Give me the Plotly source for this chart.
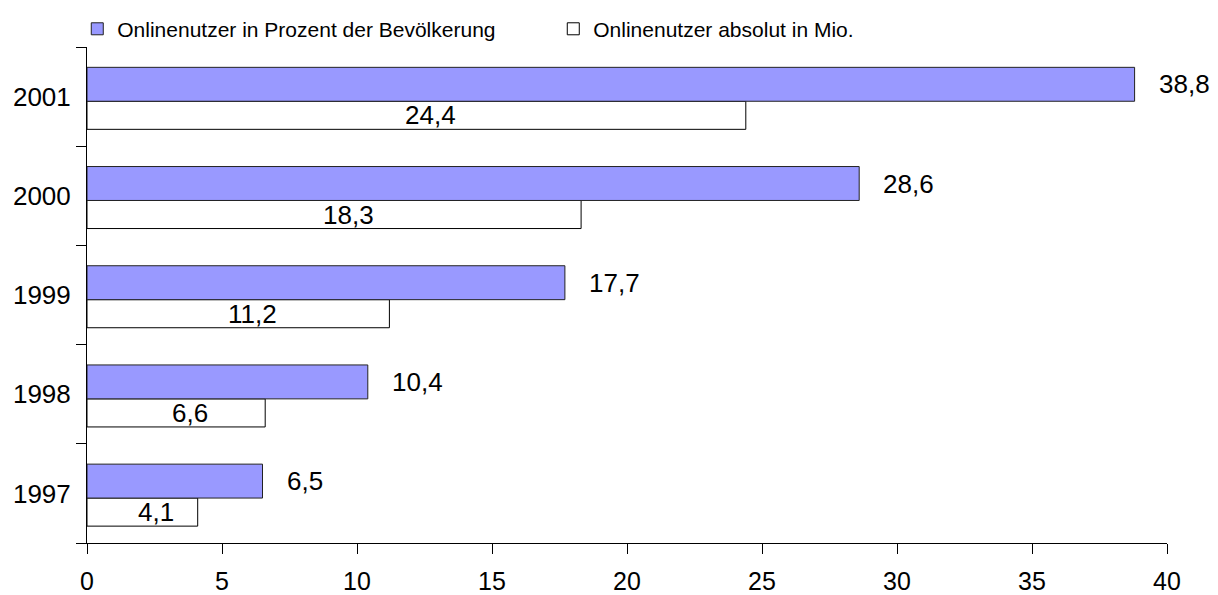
import plotly.graph_objects as go

years = ["1997", "1998", "1999", "2000", "2001"]
pct_users = [6.5, 10.4, 17.7, 28.6, 38.8]
abs_users_mio = [4.1, 6.6, 11.2, 18.3, 24.4]
x_ticks = [0, 5, 10, 15, 20, 25, 30, 35, 40]

name_pct = "Onlinenutzer in Prozent der Bevölkerung"
name_abs = "Onlinenutzer absolut in Mio."

FONT = "Liberation Sans, Arial, sans-serif"
PURPLE = "#9999FF"

def de(v):
    return f"{v:.1f}".replace(".", ",")

P_OFF, P_W = -0.047, 0.342
W_OFF, W_W = -0.33, 0.283

fig = go.Figure()
fig.add_trace(go.Bar(
    y=years, x=abs_users_mio, orientation="h", name=name_abs,
    width=W_W, offset=W_OFF,
    marker=dict(color="white", line=dict(color="black", width=1)),
    legendrank=2, hoverinfo="skip",
))
fig.add_trace(go.Bar(
    y=years, x=pct_users, orientation="h", name=name_pct,
    width=P_W, offset=P_OFF,
    marker=dict(color=PURPLE, line=dict(color="#222222", width=1)),
    legendrank=1, hoverinfo="skip",
))

annotations = []
for i, v in enumerate(pct_users):
    annotations.append(dict(
        x=v, y=i + P_OFF + P_W / 2, xref="x", yref="y",
        text=de(v), showarrow=False, xanchor="left", yanchor="middle",
        xshift=22, font=dict(family=FONT, size=26, color="black"),
    ))
for i, v in enumerate(abs_users_mio):
    annotations.append(dict(
        x=v / 2, y=i + W_OFF + W_W / 2, xref="x", yref="y",
        text=de(v), showarrow=False, xanchor="center", yanchor="middle",
        xshift=14, font=dict(family=FONT, size=26, color="black"),
    ))

fig.update_layout(
    width=1210, height=587,
    margin=dict(l=79, r=51, t=39, b=52, autoexpand=False),
    paper_bgcolor="white", plot_bgcolor="white",
    barmode="overlay",
    font=dict(family=FONT, size=26, color="black"),
    showlegend=True,
    legend=dict(
        orientation="h", x=-0.009, y=1.036, xanchor="left", yanchor="middle",
        font=dict(family=FONT, size=21, color="black"),
        entrywidth=431, entrywidthmode="pixels",
        bgcolor="rgba(0,0,0,0)",
    ),
    annotations=annotations,
    xaxis=dict(
        range=[0, 40], tickvals=x_ticks, ticktext=[str(t) for t in x_ticks],
        showline=True, linecolor="black", linewidth=1,
        ticks="outside", ticklen=10, tickcolor="black", tickwidth=1,
        ticklabelstandoff=6,
        showgrid=False, zeroline=False,
        tickfont=dict(family=FONT, size=25, color="black"),
    ),
    yaxis=dict(
        type="category", categoryorder="array", categoryarray=years,
        range=[-0.5, 4.5],
        showline=True, linecolor="black", linewidth=1,
        ticks="outside", ticklen=10, tickcolor="black", tickwidth=1,
        tickson="boundaries", ticklabelstandoff=10,
        showgrid=False, zeroline=False,
        tickfont=dict(family=FONT, size=26, color="black"),
    ),
)

fig.write_html("out.html")
